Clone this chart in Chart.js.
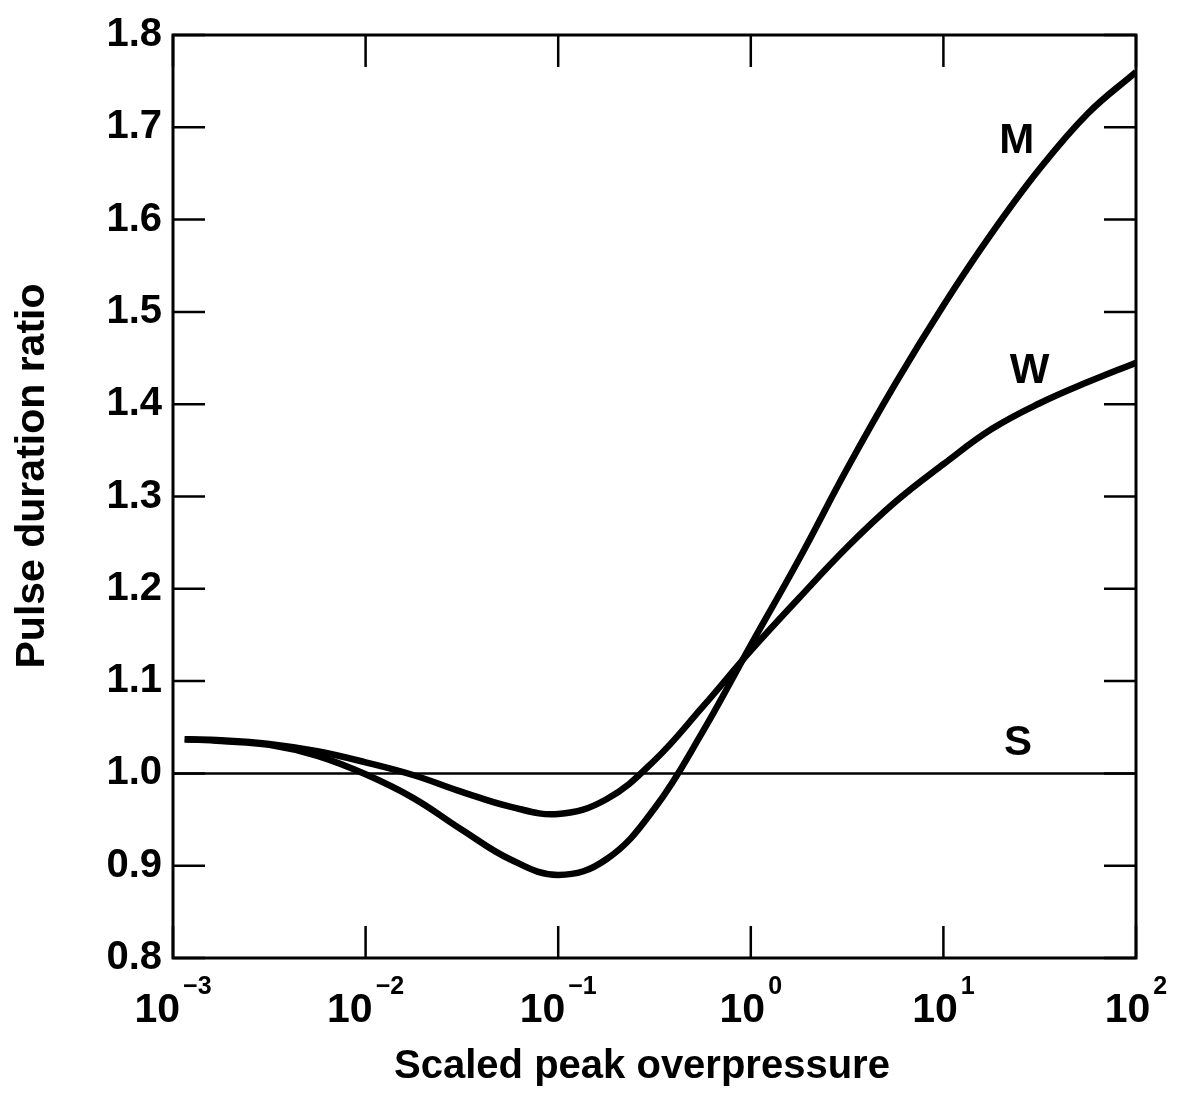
<html lang="en">
<head>
    <meta charset="UTF-8">
    <title>Pulse duration ratio</title>
    <script src="https://cdn.jsdelivr.net/npm/chart.js@4.4.1/dist/chart.umd.min.js"></script>
    <style>
        body { margin: 0; background: #fff; }
        #wrap { width: 1182px; height: 1098px; position: relative; }
    </style>
</head>
<body>
    <div id="wrap"><canvas id="graph1"></canvas></div>
    <script>
        // x positions read at quarter decades
        var curveX = [0.00115, 0.00178, 0.00316, 0.00562, 0.01, 0.0178, 0.0316, 0.0562, 0.1, 0.178, 0.316, 0.562, 1, 1.78, 3.16, 5.62, 10, 17.8, 31.6, 56.2, 100];
        // curve M
        var mY = [1.037, 1.035, 1.031, 1.019, 0.999, 0.973, 0.939, 0.907, 0.890, 0.907, 0.962, 1.045, 1.139, 1.232, 1.330, 1.422, 1.507, 1.585, 1.655, 1.715, 1.760];
        // curve W
        var wY = [1.037, 1.036, 1.032, 1.024, 1.012, 0.998, 0.980, 0.964, 0.956, 0.972, 1.014, 1.072, 1.133, 1.190, 1.245, 1.294, 1.335, 1.373, 1.401, 1.424, 1.445];
        // curve S
        var sX = [0.001, 100];
        var sY = [1.0, 1.0];

        var xTickValues = [0.001, 0.01, 0.1, 1, 10, 100];
        var xTickExp = ["\u22123", "\u22122", "\u22121", "0", "1", "2"];
        var curveNames = ["M", "W", "S"];
        var nameX = [24, 28, 24.4];
        var nameY = [1.685, 1.436, 1.032];

        var FONT = "'Liberation Sans', Arial, Helvetica, sans-serif";

        function pts(xs, ys) {
            var out = [];
            for (var i = 0; i < xs.length; i++) {
                out.push({ x: xs[i], y: ys[i] });
            }
            return out;
        }

        var frame = {
            id: "frame",
            afterDatasetsDraw: function (chart) {
                var ctx = chart.ctx;
                var a = chart.chartArea;
                var xs = chart.scales.x;
                var ys = chart.scales.y;
                ctx.save();
                ctx.strokeStyle = "#000";
                ctx.lineWidth = 3;
                ctx.strokeRect(a.left, a.top, a.right - a.left, a.bottom - a.top);
                ctx.lineWidth = 2.5;
                var tl = 32;
                for (var i = 0; i < xTickValues.length; i++) {
                    var px = xs.getPixelForValue(xTickValues[i]);
                    ctx.beginPath();
                    ctx.moveTo(px, a.bottom);
                    ctx.lineTo(px, a.bottom - tl);
                    ctx.moveTo(px, a.top);
                    ctx.lineTo(px, a.top + tl);
                    ctx.stroke();
                }
                for (var v = 0.8; v <= 1.8001; v += 0.1) {
                    var py = ys.getPixelForValue(v);
                    ctx.beginPath();
                    ctx.moveTo(a.left, py);
                    ctx.lineTo(a.left + tl, py);
                    ctx.moveTo(a.right, py);
                    ctx.lineTo(a.right - tl, py);
                    ctx.stroke();
                }
                // x tick labels with exponents
                ctx.fillStyle = "#000";
                ctx.textBaseline = "alphabetic";
                ctx.textAlign = "left";
                for (var j = 0; j < xTickValues.length; j++) {
                    var cx = xs.getPixelForValue(xTickValues[j]);
                    ctx.font = "bold 41px " + FONT;
                    var w1 = ctx.measureText("10").width;
                    ctx.font = "bold 25px " + FONT;
                    var w2 = ctx.measureText(xTickExp[j]).width;
                    var x0 = cx - (w1 + 3 + w2) / 2;
                    ctx.font = "bold 41px " + FONT;
                    ctx.fillText("10", x0, 1022);
                    ctx.font = "bold 25px " + FONT;
                    ctx.fillText(xTickExp[j], x0 + w1 + 3, 994);
                }
                // curve names
                ctx.font = "bold 42px " + FONT;
                ctx.textAlign = "center";
                ctx.textBaseline = "middle";
                for (var k = 0; k < curveNames.length; k++) {
                    ctx.fillText(curveNames[k], xs.getPixelForValue(nameX[k]), ys.getPixelForValue(nameY[k]));
                }
                // axis titles
                ctx.font = "bold 40px " + FONT;
                ctx.textBaseline = "alphabetic";
                ctx.fillText("Scaled peak overpressure", 642, 1078);
                ctx.translate(44, 476);
                ctx.rotate(-Math.PI / 2);
                ctx.font = "bold 41px " + FONT;
                ctx.fillText("Pulse duration ratio", 0, 0);
                ctx.restore();
            }
        };

        var graph1 = new Chart("graph1", {
            type: "line",
            data: {
                datasets: [{
                    label: "M",
                    data: pts(curveX, mY),
                    borderColor: "#000",
                    borderWidth: 6.5,
                    pointRadius: 0,
                    fill: false,
                    tension: 0.4
                }, {
                    label: "W",
                    data: pts(curveX, wY),
                    borderColor: "#000",
                    borderWidth: 6.5,
                    pointRadius: 0,
                    fill: false,
                    tension: 0.4
                }, {
                    label: "S",
                    data: pts(sX, sY),
                    borderColor: "#000",
                    borderWidth: 2.5,
                    pointRadius: 0,
                    fill: false
                }]
            },
            options: {
                responsive: true,
                maintainAspectRatio: false,
                animation: false,
                layout: { padding: { top: 26, right: 46, left: 0, bottom: 0 } },
                plugins: { legend: { display: false }, tooltip: { enabled: false } },
                scales: {
                    x: {
                        type: "logarithmic",
                        min: 0.001,
                        max: 100,
                        grid: { display: false, drawTicks: false },
                        border: { display: false },
                        ticks: { display: false },
                        afterFit: function (scale) { scale.height = 140; }
                    },
                    y: {
                        min: 0.8,
                        max: 1.8,
                        grid: { display: false, drawTicks: false },
                        border: { display: false },
                        ticks: {
                            stepSize: 0.1,
                            color: "#000",
                            padding: 11,
                            font: { family: FONT, size: 40, weight: "bold" },
                            callback: function (v) { return Number(v).toFixed(1); }
                        },
                        afterFit: function (scale) { scale.width = 173; }
                    }
                }
            },
            plugins: [frame]
        });
    </script>
</body>
</html>
